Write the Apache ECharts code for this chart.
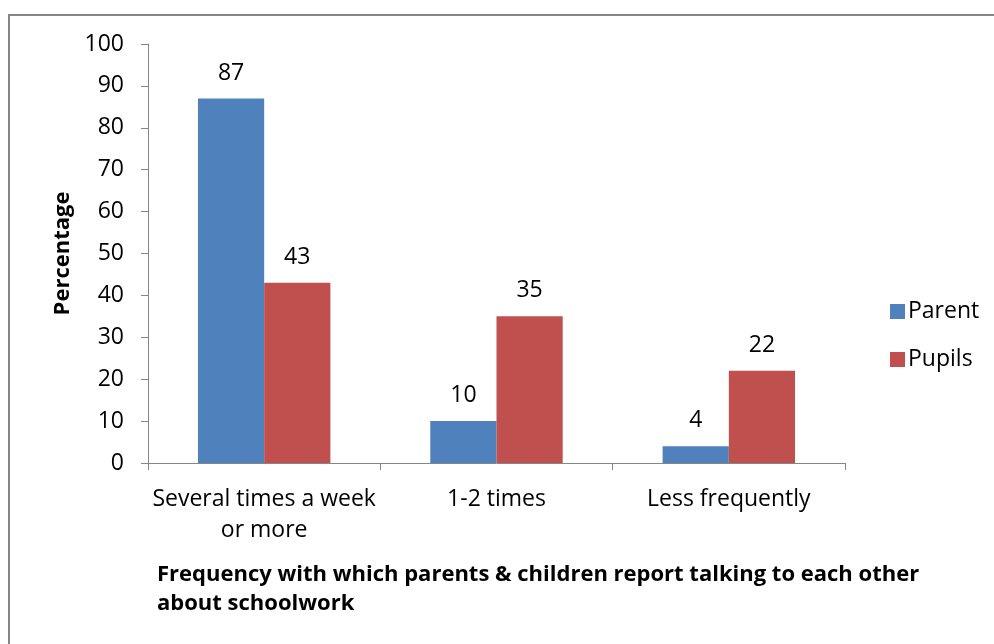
<!DOCTYPE html>
<html><head><meta charset="utf-8">
<script src="https://cdn.jsdelivr.net/npm/echarts@6/dist/echarts.min.js"></script>
<style>html,body{margin:0;padding:0;background:#fff}#c{width:994px;height:644px}</style>
</head><body><div id="c"></div>
<script>
const categories = ['Several times a week\nor more', '1-2 times', 'Less frequently'];
const parentValues = [87, 10, 4];
const pupilValues = [43, 35, 22];
const yTicks = [0, 10, 20, 30, 40, 50, 60, 70, 80, 90, 100];
const seriesNames = ['Parent', 'Pupils'];
const FONT = 'Open Sans';
const chart = echarts.init(document.getElementById('c'));
chart.setOption({
  animation: false,
  textStyle: { fontFamily: FONT },
  graphic: [{ type: 'rect', shape: { x: 9, y: 15, width: 1000, height: 700 }, style: { fill: 'none', stroke: '#868686', lineWidth: 2 } }],
  title: {
    text: 'Frequency with which parents & children report talking to each other\nabout schoolwork',
    left: 157, top: 560, padding: 0,
    textStyle: { fontFamily: FONT, fontWeight: 'bold', fontSize: 22, color: '#000', lineHeight: 29 }
  },
  legend: {
    orient: 'vertical', left: 885, top: 295, itemWidth: 15, itemHeight: 15, itemGap: 25,
    icon: 'rect',
    textStyle: { fontFamily: FONT, fontSize: 23, color: '#000', padding: [0, 0, 0, -2] }
  },
  grid: { left: 148, right: 149, top: 44, bottom: 181 },
  xAxis: {
    type: 'category', data: categories,
    axisLine: { lineStyle: { color: '#868686', width: 1 } },
    axisTick: { show: true, length: 7, lineStyle: { color: '#868686' } },
    axisLabel: { interval: 0, hideOverlap: false, fontFamily: FONT, fontSize: 23, color: '#000', margin: 21, lineHeight: 31 }
  },
  yAxis: {
    type: 'value', min: 0, max: yTicks[yTicks.length - 1], interval: yTicks[1] - yTicks[0],
    name: 'Percentage', nameLocation: 'middle', nameGap: 74,
    nameTextStyle: { fontFamily: FONT, fontWeight: 'bold', fontSize: 22, color: '#000' },
    axisLine: { show: true, lineStyle: { color: '#868686' } },
    axisTick: { show: true, length: 7, lineStyle: { color: '#868686' } },
    splitLine: { show: false },
    axisLabel: { fontFamily: FONT, fontSize: 23, color: '#000', margin: 24 }
  },
  series: [
    { name: seriesNames[0], type: 'bar', data: parentValues, barGap: '0%', barCategoryGap: '43%',
      itemStyle: { color: '#4F81BD' },
      label: { show: true, position: 'top', distance: 14, fontFamily: FONT, fontSize: 23, color: '#000' } },
    { name: seriesNames[1], type: 'bar', data: pupilValues,
      itemStyle: { color: '#C0504D' },
      label: { show: true, position: 'top', distance: 14, fontFamily: FONT, fontSize: 23, color: '#000' } }
  ]
});
</script></body></html>
